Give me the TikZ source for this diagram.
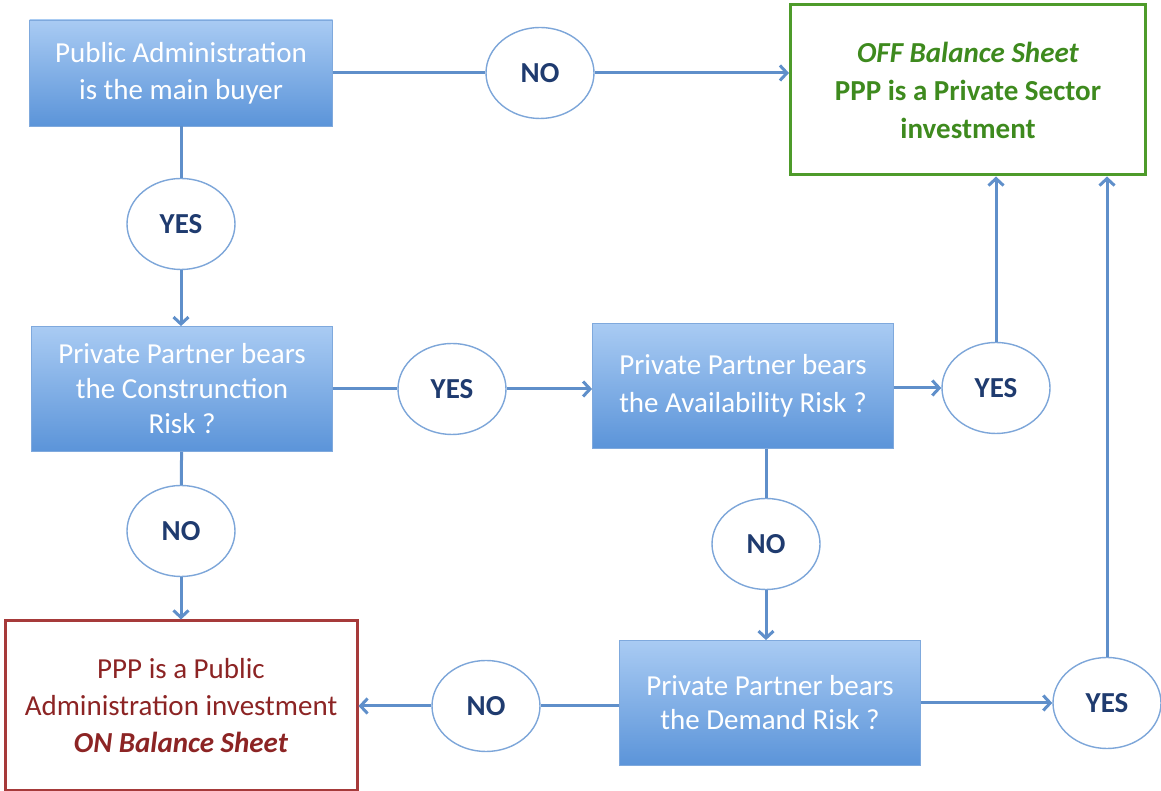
\documentclass[tikz,border=0pt]{standalone}
\usepackage{fontspec}
\setmainfont{Carlito}
\usetikzlibrary{shapes.geometric,arrows.meta}

\definecolor{boxtop}{HTML}{A9CBF3}
\definecolor{boxbot}{HTML}{5B94D9}
\definecolor{boxline}{HTML}{7FA9DD}
\definecolor{linkblue}{HTML}{5F8FCA}
\definecolor{ovalline}{HTML}{7DA6D9}
\definecolor{ovaltext}{HTML}{1F3B6F}
\definecolor{offline}{HTML}{4E9B2A}
\definecolor{offtext}{HTML}{3E8A1E}
\definecolor{online}{HTML}{A63A3A}
\definecolor{ontext}{HTML}{8C2424}

\begin{document}
\begin{tikzpicture}[x=1pt,y=1pt,
  question/.style={rectangle,draw=boxline,line width=0.8pt,top color=boxtop,bottom color=boxbot,
    text=white,minimum width=301pt,minimum height=125pt,align=center,font=\fontsize{29}{36}\selectfont},
  answer/.style={ellipse,draw=ovalline,line width=1.4pt,fill=white,text=ovaltext,
    minimum width=108pt,minimum height=91pt,font=\fontsize{29}{32}\selectfont\bfseries},
  offbox/.style={rectangle,draw=offline,line width=3pt,text=offtext,minimum width=355pt,
    minimum height=170pt,align=center,font=\fontsize{29}{38}\selectfont\bfseries},
  onbox/.style={rectangle,draw=online,line width=3pt,text=ontext,minimum width=352pt,
    minimum height=170pt,align=center,font=\fontsize{29}{37}\selectfont},
  link/.style={linkblue,line width=3pt},
  arrow/.style={link,-{Straight Barb[length=7pt,width=15pt]}}]
  \useasboundingbox (0,0) rectangle (1161,791);

  %%%%%%%%%%%%%The boxes%%%%%%%%%%%%%%%%%%%%%%
  \node[question,minimum width=303pt,minimum height=106pt,font=\fontsize{29}{37}\selectfont] (buyer) at (181,718)
    {Public Administration\\is the main buyer};
  \node[question,font=\fontsize{29}{35}\selectfont] (constr) at (182,402) {Private Partner bears\\the Construnction\\Risk ?};
  \node[question,font=\fontsize{29}{38}\selectfont] (avail) at (743,405) {Private Partner bears\\the Availability Risk ?};
  \node[question,font=\fontsize{29}{34}\selectfont] (demand) at (770,88) {Private Partner bears\\the Demand Risk ?};
  \node[offbox] (offbs) at (968,701)
    {\textit{OFF Balance Sheet}\\PPP is a Private Sector\\investment};
  \node[onbox] (onbs) at (181,85)
    {PPP is a Public\\Administration investment\\\textbf{\textit{ON Balance Sheet}}};

  %%%%%%%%%%%%%The answers%%%%%%%%%%%%%%%%%%%%%%
  \node[answer] (no1) at (540,718) {NO};
  \node[answer] (yes1) at (181,567) {YES};
  \node[answer] (yes2) at (452,402) {YES};
  \node[answer] (yes3) at (996,403) {YES};
  \node[answer] (no2) at (181,260) {NO};
  \node[answer] (no3) at (766,247) {NO};
  \node[answer] (no4) at (486,85) {NO};
  \node[answer] (yes4) at (1107,88) {YES};

  %%%%%%%%%%%%%The links%%%%%%%%%%%%%%%%%%%%%%
  \draw[link] (buyer) -- (no1);
  \draw[arrow] (no1) -- (no1 -| offbs.west);
  \draw[link] (buyer) -- (yes1);
  \draw[arrow] (yes1) -- (yes1 |- constr.north);
  \draw[link] (constr) -- (yes2);
  \draw[arrow] (yes2) -- (yes2 -| avail.west);
  \draw[arrow] (avail.east |- yes3) -- (yes3);
  \draw[arrow] (yes3) -- (yes3 |- offbs.south);
  \draw[link] (constr) -- (no2);
  \draw[arrow] (no2) -- (no2 |- onbs.north);
  \draw[link] (no3 |- avail.south) -- (no3);
  \draw[arrow] (no3) -- (no3 |- demand.north);
  \draw[link] (demand.west |- no4) -- (no4);
  \draw[arrow] (no4) -- (no4 -| onbs.east);
  \draw[arrow] (demand.east |- yes4) -- (yes4);
  \draw[arrow] (yes4) -- (yes4 |- offbs.south);
\end{tikzpicture}
\end{document}
